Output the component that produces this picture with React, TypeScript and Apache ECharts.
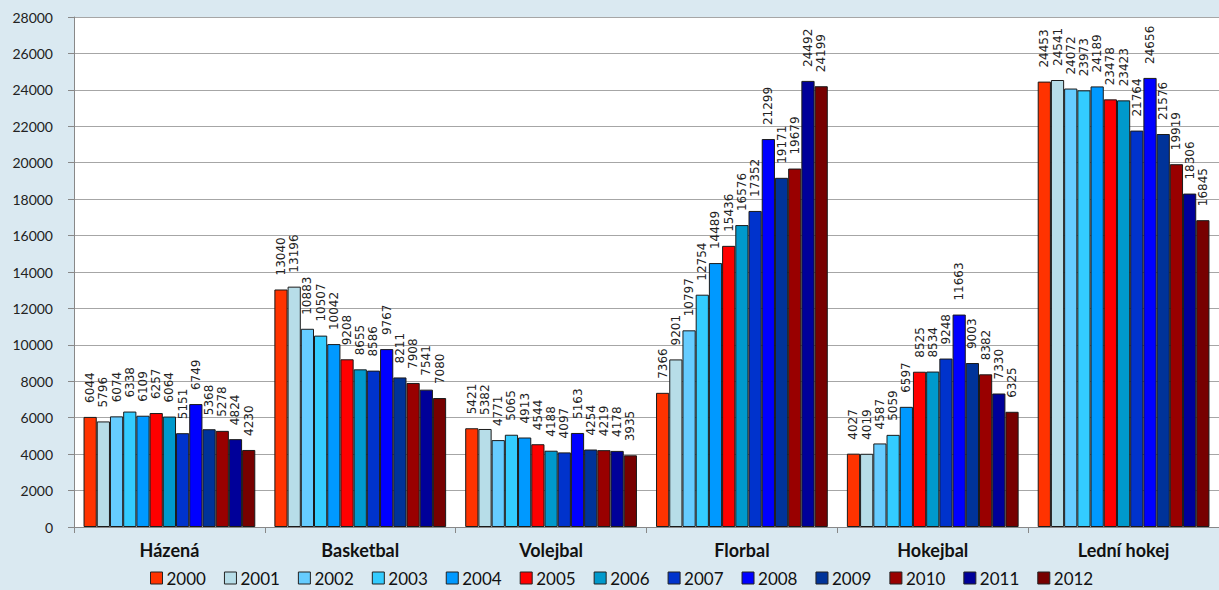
import React, { useEffect, useRef } from "react";
import * as echarts from "echarts";

const categories = ["Házená", "Basketbal", "Volejbal", "Florbal", "Hokejbal", "Lední hokej"];
const years = ["2000", "2001", "2002", "2003", "2004", "2005", "2006", "2007", "2008", "2009", "2010", "2011", "2012"];

const hazena = [6044, 5796, 6074, 6338, 6109, 6257, 6064, 5151, 6749, 5368, 5278, 4824, 4230];
const basketbal = [13040, 13196, 10883, 10507, 10042, 9208, 8655, 8586, 9767, 8211, 7908, 7541, 7080];
const volejbal = [5421, 5382, 4771, 5065, 4913, 4544, 4188, 4097, 5163, 4254, 4219, 4178, 3935];
const florbal = [7366, 9201, 10797, 12754, 14489, 15436, 16576, 17352, 21299, 19171, 19679, 24492, 24199];
const hokejbal = [4027, 4019, 4587, 5059, 6597, 8525, 8534, 9248, 11663, 9003, 8382, 7330, 6325];
const ledniHokej = [24453, 24541, 24072, 23973, 24189, 23478, 23423, 21764, 24656, 21576, 19919, 18306, 16845];

const yearColors = [
  "#ff3300", "#b7dde8", "#66ccff", "#33ccff", "#0099ff", "#ff0000", "#0099cc",
  "#0033cc", "#0000ff", "#003399", "#990000", "#000099", "#770000",
];

const yTicksMax = 28000;
const yTickStep = 2000;

export default function App() {
  const ref = useRef<HTMLDivElement>(null);
  useEffect(() => {
    if (!ref.current) return;
    const chart = echarts.init(ref.current, null, { renderer: "svg" });
    const sports = [hazena, basketbal, volejbal, florbal, hokejbal, ledniHokej];
    const series = years.map((y, i) => ({
      name: y,
      type: "bar",
      barGap: "0%",
      barCategoryGap: "10%",
      data: sports.map((s) => s[i]),
      itemStyle: { color: yearColors[i], borderColor: "#1a1a1a", borderWidth: 1 },
      label: {
        show: true,
        position: "top",
        rotate: 90,
        align: "left",
        verticalAlign: "middle",
        distance: 14,
        fontFamily: "DejaVu Sans",
        fontSize: 12,
        color: "#222",
      },
    }));
    chart.setOption({
      animation: false,
      backgroundColor: "#dae9f1",
      grid: {
        left: 74,
        right: 0,
        top: 17,
        bottom: 63,
        show: true,
        backgroundColor: "#ffffff",
        borderWidth: 0,
      },
      legend: {
        data: years,
        top: 569,
        left: 150,
        itemWidth: 12,
        itemHeight: 12,
        itemGap: 18,
        icon: "rect",
        padding: 0,
        textStyle: { fontFamily: "Lato", fontSize: 17, lineHeight: 18, color: "#111", padding: [0, 0, 0, -1] },
        itemStyle: { borderColor: "#222", borderWidth: 1 },
      },
      xAxis: {
        type: "category",
        data: categories,
        axisLine: { show: true, lineStyle: { color: "#888" } },
        axisTick: { show: true, length: 6, lineStyle: { color: "#888" } },
        axisLabel: { fontFamily: "Lato", fontWeight: "bold", fontSize: 18, color: "#111", margin: 14 },
      },
      yAxis: {
        type: "value",
        min: 0,
        max: yTicksMax,
        interval: yTickStep,
        axisLine: { show: true, lineStyle: { color: "#888" } },
        axisTick: { show: true, length: 6, lineStyle: { color: "#888" } },
        splitLine: { show: true, lineStyle: { color: "#a6a6a6" } },
        axisLabel: {
          fontFamily: "Lato",
          fontSize: 14,
          color: "#222",
          margin: 21,
          formatter: (v: number) => String(v),
        },
      },
      series,
    });
    return () => chart.dispose();
  }, []);
  return (
    <div
      ref={ref}
      style={{ position: "fixed", left: 0, top: 0, width: 1219, height: 590 }}
    />
  );
}
